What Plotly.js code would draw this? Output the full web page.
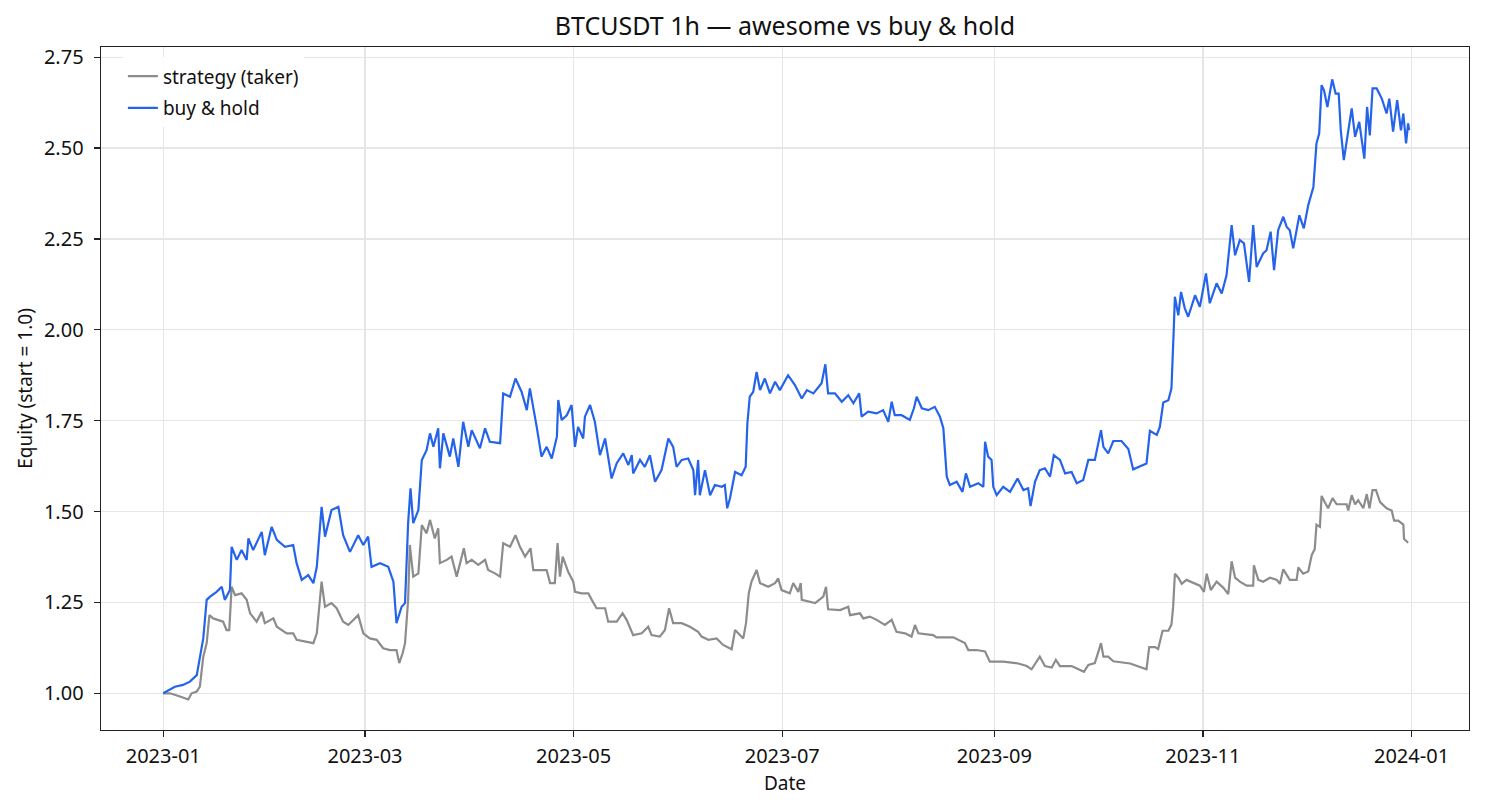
<!DOCTYPE html>
<html>
<head>
<meta charset="utf-8">
<script src="https://cdn.plot.ly/plotly-3.0.1.min.js"></script>
<style>
  html, body { margin: 0; padding: 0; background: #fff; }
  #chart { width: 1485px; height: 810px; }
</style>
</head>
<body>
<div id="chart"></div>
<script>
// days since 2023-01-01 00:00, equity
var START_DATE = "2023-01-01";

var STRAT_DAYS = [0, 2.0, 4.9, 7.3, 8.3, 9.8, 10.7, 11.7, 12.7, 13.5, 14.6, 16.1, 17.5, 18.5, 19.3, 20.0, 21.0, 22.9, 24.4, 25.4,
  27.3, 28.8, 29.7, 32.2, 33.2, 36.1, 38.0, 39.0, 41.9, 43.9, 44.9, 46.3, 47.3, 49.2, 50.7, 52.6, 54.1, 57.0, 58.5, 60.4,
  62.4, 64.3, 66.3, 68.2, 69.0, 70.0, 70.7, 71.6, 72.1, 73.1, 74.6, 75.6, 77.0, 78.0, 79.4, 80.4, 80.9, 82.9, 84.3, 85.8,
  87.9, 88.7, 90.2, 92.1, 94.1, 95.0, 97.0, 98.5, 99.4, 101.4, 103.0, 104.3, 105.8, 107.4, 108.2, 112.1, 113.1, 114.5, 115.3, 116.0,
  116.8, 118.4, 119.9, 120.4, 122.3, 124.3, 125.3, 126.7, 129.2, 130.1, 132.6, 134.3, 135.5, 137.4, 139.9, 141.8, 142.8, 145.2, 146.7, 147.9,
  149.1, 151.6, 154.0, 156.4, 157.4, 159.4, 161.8, 163.7, 166.2, 167.2, 169.6, 170.4, 171.2, 172.0, 173.5, 174.5, 176.9, 178.9, 179.8, 180.8,
  183.2, 184.2, 185.7, 186.4, 186.7, 190.6, 193.0, 193.8, 194.4, 197.9, 200.3, 200.8, 203.7, 204.7, 206.6, 208.6, 211.0, 213.0, 214.4, 216.9,
  218.8, 219.8, 220.8, 225.1, 226.1, 231.0, 234.4, 235.4, 237.8, 240.3, 241.7, 245.6, 250.0, 252.5, 253.9, 256.3, 257.8, 259.8, 261.0, 262.2,
  265.6, 267.5, 269.2, 270.5, 272.4, 274.2, 274.9, 276.3, 277.8, 282.7, 285.6, 287.5, 288.3, 290.0, 290.9, 292.2, 293.9, 294.8, 295.3, 295.8,
  296.8, 297.8, 299.2, 301.7, 303.1, 304.3, 305.1, 306.3, 308.0, 310.0, 311.4, 312.4, 313.4, 314.8, 316.8, 318.7, 318.9, 320.2, 321.6, 323.6,
  325.6, 326.5, 327.5, 329.4, 331.4, 331.9, 333.3, 334.8, 335.8, 336.7, 337.2, 338.2, 338.7, 339.6, 340.6, 341.9, 343.1, 346.0, 346.5, 347.5,
  348.5, 349.4, 350.9, 351.9, 352.7, 353.6, 354.6, 355.8, 357.7, 359.2, 359.9, 361.1, 362.6, 362.8, 364.0];
var STRAT_EQUITY = [1.000, 1.000, 0.991, 0.983, 1.000, 1.005, 1.018, 1.100, 1.138, 1.215, 1.206, 1.202, 1.197, 1.174, 1.174, 1.293, 1.270, 1.275, 1.257, 1.220,
  1.197, 1.224, 1.193, 1.206, 1.183, 1.165, 1.165, 1.147, 1.142, 1.138, 1.165, 1.307, 1.238, 1.248, 1.234, 1.197, 1.188, 1.215, 1.165, 1.151,
  1.147, 1.124, 1.119, 1.119, 1.083, 1.110, 1.138, 1.257, 1.408, 1.321, 1.330, 1.463, 1.440, 1.477, 1.426, 1.454, 1.358, 1.367, 1.376, 1.321,
  1.399, 1.358, 1.367, 1.353, 1.367, 1.339, 1.330, 1.321, 1.413, 1.403, 1.435, 1.403, 1.376, 1.399, 1.339, 1.339, 1.303, 1.303, 1.413, 1.321,
  1.376, 1.334, 1.307, 1.279, 1.275, 1.275, 1.257, 1.234, 1.234, 1.197, 1.197, 1.220, 1.202, 1.160, 1.165, 1.183, 1.160, 1.156, 1.174, 1.234,
  1.193, 1.193, 1.183, 1.169, 1.156, 1.147, 1.151, 1.133, 1.121, 1.174, 1.151, 1.193, 1.275, 1.307, 1.339, 1.303, 1.293, 1.303, 1.316, 1.284,
  1.275, 1.303, 1.279, 1.303, 1.257, 1.248, 1.266, 1.293, 1.231, 1.229, 1.238, 1.215, 1.220, 1.206, 1.211, 1.202, 1.188, 1.202, 1.169, 1.165,
  1.156, 1.188, 1.165, 1.160, 1.154, 1.154, 1.138, 1.119, 1.119, 1.115, 1.087, 1.087, 1.082, 1.075, 1.066, 1.101, 1.075, 1.071, 1.092, 1.075,
  1.075, 1.066, 1.059, 1.078, 1.083, 1.138, 1.101, 1.101, 1.088, 1.082, 1.071, 1.066, 1.127, 1.127, 1.122, 1.172, 1.172, 1.189, 1.239, 1.329,
  1.318, 1.301, 1.312, 1.301, 1.296, 1.279, 1.329, 1.284, 1.307, 1.290, 1.273, 1.363, 1.318, 1.307, 1.296, 1.296, 1.352, 1.312, 1.307, 1.318,
  1.312, 1.301, 1.341, 1.312, 1.312, 1.346, 1.329, 1.335, 1.380, 1.397, 1.464, 1.458, 1.543, 1.526, 1.509, 1.537, 1.520, 1.520, 1.503, 1.545,
  1.520, 1.531, 1.509, 1.548, 1.509, 1.559, 1.559, 1.526, 1.509, 1.503, 1.475, 1.475, 1.464, 1.425, 1.414];

var HOLD_DAYS = [0, 3.4, 5.8, 7.8, 9.8, 10.7, 11.7, 12.7, 13.7, 15.6, 17.1, 18.0, 19.5, 20.0, 21.5, 22.9, 24.4, 24.9, 26.3, 28.8,
  29.7, 31.7, 33.2, 35.6, 38.0, 39.0, 40.5, 42.4, 43.9, 44.9, 46.3, 47.3, 49.2, 51.2, 52.6, 54.6, 57.0, 58.5, 59.9, 60.9,
  63.4, 65.8, 67.3, 68.2, 69.7, 70.7, 71.6, 72.3, 73.1, 74.6, 75.6, 77.0, 78.0, 79.0, 80.4, 80.9, 81.9, 83.8, 84.8, 86.3,
  87.7, 89.2, 90.2, 92.6, 94.1, 95.5, 98.5, 99.4, 101.4, 103.0, 104.8, 106.3, 107.2, 109.2, 110.6, 112.1, 113.6, 115.1, 115.5, 116.5,
  118.0, 119.4, 120.4, 121.3, 122.8, 123.3, 124.8, 126.2, 127.7, 129.2, 130.1, 131.1, 132.6, 134.5, 136.0, 137.0, 137.4, 139.4, 140.8, 142.3,
  143.8, 145.7, 147.7, 149.1, 150.1, 151.6, 153.5, 155.0, 155.5, 156.4, 156.9, 158.4, 159.9, 161.3, 163.3, 164.2, 164.9, 165.7, 167.2, 169.1,
  170.3, 170.8, 171.5, 172.5, 173.5, 174.5, 175.9, 177.4, 178.9, 180.3, 182.7, 184.7, 186.7, 188.2, 190.1, 192.5, 193.6, 194.4, 196.4, 198.4,
  200.3, 201.8, 203.5, 204.2, 206.1, 208.6, 210.5, 212.0, 213.0, 213.9, 215.9, 218.3, 219.5, 220.3, 221.8, 223.7, 225.6, 227.1, 228.1, 228.6,
  229.1, 230.0, 232.0, 233.7, 234.7, 235.9, 238.3, 239.8, 240.3, 241.2, 242.2, 242.7, 243.7, 245.6, 247.6, 249.8, 251.5, 252.9, 253.6, 254.9,
  256.3, 257.8, 259.3, 260.4, 262.2, 263.7, 265.6, 267.1, 269.0, 270.5, 272.4, 274.2, 274.9, 276.3, 277.8, 280.2, 282.2, 283.6, 286.5, 287.5,
  288.5, 290.5, 291.4, 292.4, 293.9, 294.8, 295.5, 295.8, 296.8, 297.6, 298.7, 299.7, 301.7, 303.1, 304.9, 306.0, 308.0, 309.5, 310.9, 312.4,
  313.4, 314.8, 316.0, 317.5, 318.7, 319.7, 321.6, 322.6, 323.8, 324.8, 326.0, 327.5, 328.5, 329.4, 330.4, 332.2, 333.5, 334.8, 336.3, 337.2,
  338.0, 338.7, 339.4, 340.4, 341.8, 342.8, 343.7, 344.3, 345.2, 346.2, 347.5, 348.5, 349.7, 351.2, 352.0, 352.8, 353.6, 354.8, 356.3, 357.7,
  358.5, 359.6, 360.8, 361.9, 362.6, 363.4, 364.0, 364.3];
var HOLD_EQUITY = [1.000, 1.018, 1.023, 1.032, 1.050, 1.100, 1.151, 1.257, 1.266, 1.279, 1.293, 1.257, 1.284, 1.403, 1.367, 1.394, 1.367, 1.426, 1.394, 1.444,
  1.380, 1.458, 1.422, 1.403, 1.408, 1.358, 1.312, 1.325, 1.303, 1.348, 1.513, 1.431, 1.504, 1.513, 1.435, 1.389, 1.435, 1.408, 1.431, 1.348,
  1.358, 1.348, 1.307, 1.193, 1.238, 1.248, 1.468, 1.564, 1.468, 1.504, 1.642, 1.669, 1.715, 1.678, 1.729, 1.619, 1.715, 1.651, 1.701, 1.623,
  1.747, 1.678, 1.724, 1.674, 1.729, 1.692, 1.688, 1.825, 1.816, 1.866, 1.829, 1.779, 1.839, 1.733, 1.651, 1.678, 1.646, 1.706, 1.807, 1.752,
  1.765, 1.793, 1.678, 1.733, 1.701, 1.761, 1.793, 1.747, 1.655, 1.701, 1.651, 1.591, 1.633, 1.660, 1.628, 1.655, 1.605, 1.642, 1.623, 1.655,
  1.582, 1.614, 1.701, 1.678, 1.623, 1.642, 1.646, 1.614, 1.545, 1.642, 1.545, 1.614, 1.545, 1.573, 1.568, 1.573, 1.509, 1.536, 1.609, 1.600,
  1.623, 1.743, 1.816, 1.829, 1.884, 1.834, 1.866, 1.825, 1.857, 1.834, 1.875, 1.848, 1.811, 1.834, 1.825, 1.853, 1.905, 1.825, 1.825, 1.802,
  1.820, 1.798, 1.825, 1.761, 1.775, 1.770, 1.779, 1.747, 1.802, 1.765, 1.765, 1.752, 1.784, 1.816, 1.784, 1.779, 1.788, 1.761, 1.729, 1.651,
  1.596, 1.573, 1.582, 1.554, 1.605, 1.568, 1.578, 1.568, 1.692, 1.651, 1.642, 1.568, 1.545, 1.568, 1.554, 1.591, 1.559, 1.564, 1.515, 1.582,
  1.614, 1.619, 1.596, 1.655, 1.642, 1.605, 1.609, 1.578, 1.587, 1.642, 1.642, 1.724, 1.678, 1.660, 1.694, 1.694, 1.672, 1.616, 1.627, 1.632,
  1.722, 1.711, 1.733, 1.800, 1.806, 1.839, 2.008, 2.091, 2.040, 2.104, 2.059, 2.036, 2.095, 2.063, 2.155, 2.073, 2.128, 2.100, 2.150, 2.288,
  2.205, 2.247, 2.238, 2.132, 2.288, 2.173, 2.210, 2.219, 2.270, 2.164, 2.274, 2.311, 2.283, 2.274, 2.224, 2.315, 2.279, 2.343, 2.393, 2.513,
  2.540, 2.673, 2.659, 2.613, 2.689, 2.650, 2.650, 2.549, 2.467, 2.531, 2.609, 2.531, 2.572, 2.471, 2.613, 2.535, 2.664, 2.664, 2.636, 2.595,
  2.636, 2.545, 2.632, 2.549, 2.595, 2.513, 2.568, 2.549];

var Y_TICKS = [1.00, 1.25, 1.50, 1.75, 2.00, 2.25, 2.50, 2.75];

var FONT = "Noto Sans, Open Sans, DejaVu Sans, sans-serif";
var INK = "#111111";

function toDates(days) {
  var base = Date.parse(START_DATE + "T00:00:00Z");
  return days.map(function(d) {
    return new Date(base + d * 86400000).toISOString().slice(0, 16).replace("T", " ");
  });
}

var traces = [{
  type: "scatter",
  mode: "lines",
  name: "strategy (taker)",
  legendgroup: "strat",
  x: toDates(STRAT_DAYS),
  y: STRAT_EQUITY,
  line: { color: "#8c8c8c", width: 2.2 }
}, {
  type: "scatter",
  mode: "lines",
  name: "buy & hold",
  legendgroup: "hold",
  x: toDates(HOLD_DAYS),
  y: HOLD_EQUITY,
  line: { color: "#2563eb", width: 2.2 }
}];

var layout = {
  width: 1485,
  height: 810,
  margin: { l: 101, r: 16, t: 47, b: 80 },
  paper_bgcolor: "#ffffff",
  plot_bgcolor: "#ffffff",
  font: { family: FONT, size: 19, color: INK },
  title: {
    text: "BTCUSDT 1h — awesome vs buy & hold",
    font: { family: FONT, size: 25, color: INK },
    xref: "paper", x: 0.5, xanchor: "center",
    yref: "container", y: 0.968, yanchor: "middle"
  },
  showlegend: true,
  legend: {
    x: 0.016, y: 0.985, xanchor: "left", yanchor: "top",
    bgcolor: "rgba(255,255,255,0.9)", borderwidth: 0,
    font: { family: FONT, size: 19, color: INK },
    tracegroupgap: 4
  },
  xaxis: {
    type: "date",
    range: [toDates([-18.2])[0], toDates([381.8])[0]],
    tick0: START_DATE,
    dtick: "M2",
    tickformat: "%Y-%m",
    ticks: "outside", ticklen: 6, tickwidth: 1.2, tickcolor: "#222",
    ticklabelstandoff: 2,
    showline: true, mirror: true, linecolor: "#222", linewidth: 1.4,
    showgrid: true, gridcolor: "#e6e6e6", gridwidth: 1.2,
    zeroline: false,
    tickfont: { family: FONT, size: 20, color: INK },
    title: { text: "Date", font: { family: FONT, size: 19, color: INK }, standoff: 8 }
  },
  yaxis: {
    range: [0.899, 2.778],
    tickvals: Y_TICKS,
    tickformat: ".2f",
    ticks: "outside", ticklen: 6, tickwidth: 1.2, tickcolor: "#222",
    ticklabelstandoff: 6,
    showline: true, mirror: true, linecolor: "#222", linewidth: 1.4,
    showgrid: true, gridcolor: "#e6e6e6", gridwidth: 1.2,
    zeroline: false,
    tickfont: { family: FONT, size: 20, color: INK },
    title: { text: "Equity (start = 1.0)", font: { family: FONT, size: 19, color: INK }, standoff: 6 }
  }
};

Plotly.newPlot("chart", traces, layout, { displayModeBar: false, staticPlot: true });
</script>
</body>
</html>
